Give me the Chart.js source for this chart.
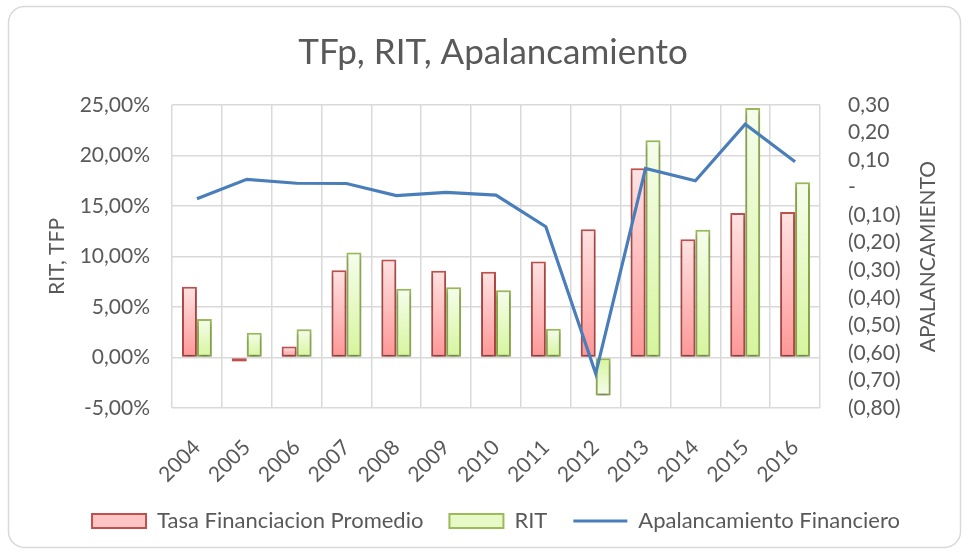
<!DOCTYPE html>
<html>
<head>
<meta charset="utf-8">
<script src="https://cdn.jsdelivr.net/npm/chart.js@4.4.1/dist/chart.umd.min.js"></script>
<style>
  html, body { margin: 0; padding: 0; background: #fff; }
  #wrap { width: 968px; height: 553px; }
</style>
</head>
<body>
<div id="wrap"><canvas id="tfpChart" width="968" height="553"></canvas></div>
<script>
// data
const years = ["2004", "2005", "2006", "2007", "2008", "2009", "2010", "2011", "2012", "2013", "2014", "2015", "2016"];
const tasaFinanciacion = [7.0, -0.4, 1.1, 8.65, 9.7, 8.6, 8.5, 9.5, 12.7, 18.75, 11.7, 14.3, 14.4];   // %
const rit = [3.8, 2.45, 2.8, 10.4, 6.8, 6.95, 6.65, 2.85, -3.75, 21.5, 12.65, 24.7, 17.35];          // %
const apalancamiento = [-0.04, 0.03, 0.016, 0.015, -0.029, -0.017, -0.027, -0.142, -0.675, 0.07, 0.025, 0.23, 0.094];

const FONT = "Lato, 'Open Sans', sans-serif";
const GREY = "#595959";

// gradient per bar: light at the end of the bar, darker at the zero line
function barFill(light, dark) {
  return function (c) {
    const chart = c.chart;
    if (!chart.chartArea || c.type !== "data") return dark;
    const y = chart.scales.y;
    const end = y.getPixelForValue(c.raw);
    const zero = y.getPixelForValue(0);
    if (!isFinite(end) || Math.abs(zero - end) < 1) return dark;
    const g = chart.ctx.createLinearGradient(0, end, 0, zero);
    g.addColorStop(0, light);
    g.addColorStop(1, dark);
    return g;
  };
}

function pct(v) {
  return v.toFixed(2).replace(".", ",") + "%";
}

function acct(v) {
  const r = Math.round(v * 100) / 100;
  if (Math.abs(r) < 1e-9) return "-";
  const s = Math.abs(r).toFixed(2).replace(".", ",");
  return r < 0 ? "(" + s + ")" : s;
}

// white card with rounded grey border + axis titles
const decor = {
  id: "decor",
  afterLayout(chart) {
    // excel centres title and legend a little to the right
    chart.legend.left += 12;
    chart.legend.right += 12;
    chart.titleBlock.left += 9;
    chart.titleBlock.right += 9;
  },
  beforeDraw(chart) {
    const ctx = chart.ctx;
    ctx.save();
    ctx.fillStyle = "#fff";
    ctx.fillRect(0, 0, chart.width, chart.height);
    ctx.strokeStyle = "#d9d9d9";
    ctx.lineWidth = 1.5;
    ctx.beginPath();
    ctx.roundRect(8.5, 6.5, 952, 541, 16);
    ctx.stroke();
    ctx.restore();
  },
  afterDraw(chart) {
    const ctx = chart.ctx;
    const a = chart.chartArea;
    const midY = (a.top + a.bottom) / 2;
    ctx.save();
    ctx.fillStyle = GREY;
    ctx.font = "21px " + FONT;
    ctx.textAlign = "center";
    ctx.textBaseline = "middle";
    ctx.translate(57, midY);
    ctx.rotate(-Math.PI / 2);
    ctx.fillText("RIT, TFP", 0, 0);
    ctx.restore();
    ctx.save();
    ctx.fillStyle = GREY;
    ctx.font = "21px " + FONT;
    ctx.textAlign = "center";
    ctx.textBaseline = "middle";
    ctx.translate(928, midY);
    ctx.rotate(-Math.PI / 2);
    ctx.fillText("APALANCAMIENTO", 0, 0);
    ctx.restore();
  },
  beforeDatasetDraw(chart, args) {
    if (args.meta.type !== "bar") return;
    const ctx = chart.ctx;
    ctx.save();
    ctx.shadowColor = "rgba(0,0,0,0.35)";
    ctx.shadowBlur = 5;
    ctx.shadowOffsetY = 3;
  },
  afterDatasetDraw(chart, args) {
    if (args.meta.type !== "bar") return;
    chart.ctx.restore();
  }
};

const ctx = document.getElementById("tfpChart").getContext("2d");
const chart = new Chart(ctx, {
  data: {
    labels: years,
    datasets: [
      {
        type: "line",
        label: "Apalancamiento Financiero",
        data: apalancamiento,
        yAxisID: "y1",
        borderColor: "#4a7ebb",
        backgroundColor: "#4a7ebb",
        borderWidth: 3.2,
        pointRadius: 0,
        tension: 0
      },
      {
        type: "bar",
        label: "Tasa Financiacion Promedio",
        data: tasaFinanciacion,
        yAxisID: "y",
        backgroundColor: barFill("#ffe3e3", "#ff9696"),
        borderColor: "#c0504d",
        borderWidth: 2,
        borderSkipped: false,
        barPercentage: 1,
        categoryPercentage: 0.6
      },
      {
        type: "bar",
        label: "RIT",
        data: rit,
        yAxisID: "y",
        backgroundColor: barFill("#f6fdec", "#d6f59c"),
        borderColor: "#9bbb59",
        borderWidth: 2,
        borderSkipped: false,
        barPercentage: 1,
        categoryPercentage: 0.6
      }
    ]
  },
  options: {
    responsive: false,
    animation: false,
    layout: { padding: { left: 0, right: 0, top: 0, bottom: 11 } },
    plugins: {
      title: {
        display: true,
        text: "TFp, RIT, Apalancamiento",
        color: GREY,
        font: { family: FONT, size: 35, weight: "normal" },
        padding: { top: 32, bottom: 31 }
      },
      legend: {
        position: "bottom",
        labels: {
          color: GREY,
          font: { family: FONT, size: 22 },
          usePointStyle: true,
          pointStyleWidth: 54,
          boxWidth: 54,
          boxHeight: 14,
          padding: 26,
          generateLabels(chart) {
            const items = Chart.defaults.plugins.legend.labels.generateLabels(chart);
            const fills = { 0: "#4a7ebb", 1: "#ffc4c4", 2: "#e6f9c6" };
            items.forEach(it => {
              it.fillStyle = fills[it.datasetIndex];
              it.pointStyle = it.datasetIndex === 0 ? "line" : "rect";
              it.lineWidth = it.datasetIndex === 0 ? 3 : 2;
            });
            items.sort((p, q) => ((p.datasetIndex + 2) % 3) - ((q.datasetIndex + 2) % 3));
            return items;
          }
        }
      },
      tooltip: { enabled: false }
    },
    scales: {
      x: {
        grid: { color: "#d9d9d9", lineWidth: 1.5, offset: true, drawTicks: false },
        border: { display: false },
        ticks: {
          color: GREY,
          font: { family: FONT, size: 21 },
          minRotation: 45,
          maxRotation: 45,
          padding: 27
        },
        afterFit(scale) { scale.height = 76; }
      },
      y: {
        position: "left",
        min: -5,
        max: 25,
        grid: { color: "#d9d9d9", lineWidth: 1.5, drawTicks: false },
        border: { display: false },
        ticks: {
          stepSize: 5,
          autoSkip: false,
          color: GREY,
          font: { family: FONT, size: 21 },
          padding: 22,
          callback: v => pct(v)
        },
        afterFit(scale) { scale.width = 172; }
      },
      y1: {
        position: "right",
        min: -0.8,
        max: 0.3,
        grid: { display: false, drawTicks: false },
        border: { display: false },
        ticks: {
          stepSize: 0.1,
          autoSkip: false,
          color: GREY,
          font: { family: FONT, size: 21 },
          padding: 28,
          callback: v => acct(v)
        },
        afterFit(scale) { scale.width = 148; }
      }
    }
  },
  plugins: [decor]
});
</script>
</body>
</html>
